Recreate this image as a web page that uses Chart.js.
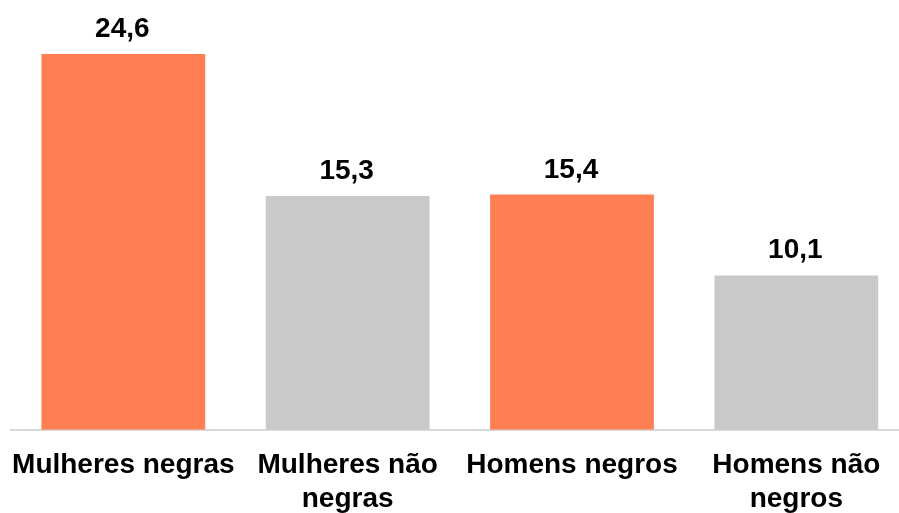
<!DOCTYPE html>
<html>
<head>
<meta charset="utf-8">
<script src="https://cdn.jsdelivr.net/npm/chart.js@4/dist/chart.umd.min.js"></script>
<style>
body{margin:0;background:#fff;overflow:hidden;}
#wrap{width:899px;height:513px;overflow:hidden;}
</style>
</head>
<body>
<div id="wrap"><canvas id="grafico" width="920" height="527"></canvas></div>
<script>
const categorias = [
'Mulheres negras',
['Mulheres não', 'negras'],
'Homens negros',
['Homens não', 'negros']
];

const valores = [24.6, 15.3, 15.4, 10.1];

const cores = ['#ff7e52', '#c9c9c9', '#ff7e52', '#c9c9c9'];

const fonte = 'Liberation Sans, Arial, sans-serif';

// rotulo em cima de cada barra
const rotulos = {
id:'rotulos',
afterDatasetsDraw(chart){
const c = chart.ctx;
const meta = chart.getDatasetMeta(0);
c.save();
c.font = 'bold 28px ' + fonte;
c.fillStyle = '#000';
c.textAlign = 'center';
c.textBaseline = 'alphabetic';
meta.data.forEach((bar, i) => {
c.fillText(valores[i].toFixed(1).replace('.', ','), bar.x - 1, bar.y - 17);
});
c.restore();
}
};

new Chart(document.getElementById('grafico'), {
type:'bar',
data:{
labels:categorias,
datasets:[{
data:valores,
backgroundColor:cores,
barPercentage:0.73,
categoryPercentage:1
}]
},
options:{
responsive:false,
animation:false,
layout:{
padding:{top:2, left:8.5, right:11.5, bottom:0}
},
plugins:{
legend:{display:false},
tooltip:{enabled:false}
},
scales:{
x:{
grid:{display:false},
border:{display:true, color:'#d9d9d9', width:2},
ticks:{
color:'#000',
font:{family:fonte, size:28, weight:'bold'},
maxRotation:0,
autoSkip:false,
padding:11
}
},
y:{
display:false,
min:0,
max:28
}
}
},
plugins:[rotulos]
});
</script>
</body>
</html>
